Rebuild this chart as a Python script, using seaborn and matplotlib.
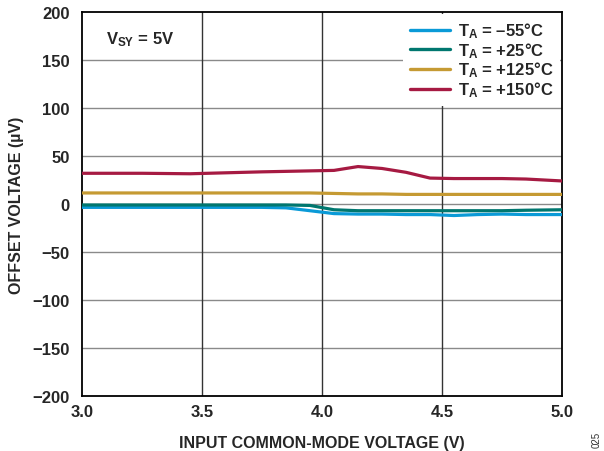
import matplotlib
matplotlib.use("Agg")
import matplotlib.pyplot as plt
import seaborn as sns
import pandas as pd

vcm = [3.0, 3.25, 3.45, 3.6, 3.75, 3.85, 3.95, 4.05, 4.15, 4.25, 4.35, 4.45, 4.55, 4.65, 4.75, 4.85, 5.0]
vos_m55 = [-3.5, -3.5, -3.5, -3.5, -3.5, -4, -7, -10, -10.5, -10.5, -11, -11, -12, -11, -10.5, -11, -11]
vos_25 = [-1, -1, -1, -1, -1, -1, -1.5, -6, -7, -7, -7, -7, -7, -7, -7, -6.5, -6]
vos_125 = [11.5, 11.5, 11.5, 11.5, 11.5, 11.5, 11.5, 11, 10.5, 10.5, 10, 10, 10, 10, 10, 10, 10]
vos_150 = [32, 32, 31.5, 32.5, 33.5, 34, 34.5, 35, 39, 37, 33, 27, 26.5, 26.5, 26.5, 26, 24]

labels = ["$T_A$ = \u201355°C", "$T_A$ = +25°C", "$T_A$ = +125°C", "$T_A$ = +150°C"]
colors = ["#0A9AD7", "#00776F", "#C59A33", "#A61A42"]
x_ticks = [3.0, 3.5, 4.0, 4.5, 5.0]
y_ticks = [-200, -150, -100, -50, 0, 50, 100, 150, 200]

sns.set_style("white")
plt.rcParams['font.family'] = ['Liberation Sans', 'DejaVu Sans']
plt.rcParams['font.weight'] = 'bold'
plt.rcParams['mathtext.fontset'] = 'custom'
plt.rcParams['mathtext.rm'] = 'Liberation Sans:bold'
plt.rcParams['mathtext.it'] = 'Liberation Sans:bold'
plt.rcParams['mathtext.bf'] = 'Liberation Sans:bold'

frames = []
for lab, vals in zip(labels, [vos_m55, vos_25, vos_125, vos_150]):
    frames.append(pd.DataFrame({"x": vcm, "y": vals, "T": lab}))
df = pd.concat(frames, ignore_index=True)

fig = plt.figure(figsize=(6.04, 4.52), dpi=100)
ax = fig.add_axes([82/604, 55/452, 480/604, 384/452])

sns.lineplot(data=df, x="x", y="y", hue="T", hue_order=labels,
             palette=colors, linewidth=2.3, ax=ax, legend=True, zorder=3)

ax.set_xlim(3.0, 5.0)
ax.set_ylim(-200, 200)
ax.set_xticks(x_ticks)
ax.set_xticklabels([f"{t:.1f}" for t in x_ticks])
ax.set_yticks(y_ticks)
ax.set_yticklabels([f"{t}".replace("-", "\u2212") for t in y_ticks])
for t in y_ticks[1:-1]:
    ax.axhline(t, color="#8a8a8a", lw=1.0, zorder=1)
for t in x_ticks[1:-1]:
    ax.axvline(t, color="#333333", lw=1.0, zorder=1)
ax.tick_params(axis="both", labelsize=12, length=0)
ax.tick_params(axis="y", pad=9)
ax.tick_params(axis="x", pad=6)
for s in ax.spines.values():
    s.set_color("black")
    s.set_linewidth(1.3)

ax.set_xlabel("INPUT COMMON-MODE VOLTAGE (V)", fontsize=11.5, fontweight="bold", labelpad=11)
ax.set_ylabel("OFFSET VOLTAGE (µV)", fontsize=11.5, fontweight="bold", labelpad=6)

leg = ax.legend(loc="upper right", fontsize=12, frameon=True, framealpha=1,
                edgecolor="white", handlelength=2.4, handletextpad=0.5,
                labelspacing=0.0, borderaxespad=0.1, fancybox=False)
leg.get_frame().set_linewidth(0)
leg.set_zorder(5)
for line in leg.get_lines():
    line.set_linewidth(2.4)

ax.text(0.05, 0.93, "$V_{SY}$ = 5V", transform=ax.transAxes, fontsize=12,
        fontweight="bold", va="center", ha="left", zorder=6,
        bbox=dict(facecolor="white", edgecolor="none", pad=2))

fig.text(597/604, 1 - 440/452, "025", rotation=90, fontsize=7, fontweight="normal",
         ha="center", va="center", color="#333333")

fig.savefig("out.png", dpi=100)
